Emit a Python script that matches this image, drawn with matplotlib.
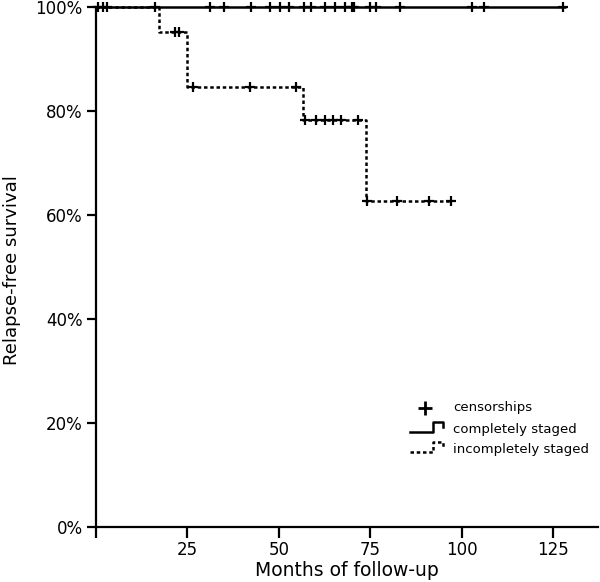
import matplotlib
matplotlib.use("Agg")
import matplotlib.pyplot as plt
import numpy as np

# ---- data ----
complete_censor_times = [0.6, 1.8, 2.9, 16.1, 31.3, 35.0, 42.3, 47.5, 50.3, 52.7,
                         56.9, 58.9, 62.6, 65.3, 68.0, 70.0, 70.6, 75.0, 76.7,
                         83.2, 102.8, 106.1, 127.7]
complete_end = 128.5

incomplete_step_times = [0, 17.2, 24.8, 56.7, 73.8]
incomplete_step_surv = [100.0, 95.2, 84.7, 78.2, 62.6]
incomplete_end = 97.0
incomplete_censor_times = [21.6, 22.8, 26.6, 42.1, 54.8, 57.1, 60.3, 62.6, 64.8,
                           67.1, 71.7, 74.0, 82.3, 91.1, 97.0]

x_ticks = [0, 25, 50, 75, 100, 125]
x_tick_labels = ["", "25", "50", "75", "100", "125"]
y_ticks = [0, 20, 40, 60, 80, 100]
y_tick_labels = ["0%", "20%", "40%", "60%", "80%", "100%"]
legend_labels = ["censorships", "completely staged", "incompletely staged"]


def surv_at(t, times, surv):
    idx = np.searchsorted(times, t, side="right") - 1
    return np.asarray(surv)[idx]


plt.rcParams['font.family'] = ['DejaVu Sans']
fig = plt.figure(figsize=(6.0, 5.82), dpi=100)
ax = fig.add_axes([96 / 600, 1 - 527 / 582, 502 / 600, 520 / 582])

dash = (0, (1.4, 1.1))
lw_solid = 1.8
lw_dash = 1.8

# completely staged
ax.plot([0, complete_end], [100, 100], color="black", lw=lw_solid,
        solid_capstyle="butt", clip_on=False, zorder=5)
ax.plot(complete_censor_times, [100] * len(complete_censor_times),
        linestyle="none", marker="+", ms=7, mew=1.6, color="black",
        clip_on=False, zorder=6)

# incompletely staged
xs = list(incomplete_step_times) + [incomplete_end]
ys = list(incomplete_step_surv) + [incomplete_step_surv[-1]]
ax.step(xs, ys, where="post", color="black", lw=lw_dash, linestyle=dash,
        clip_on=False, zorder=3)
ic_y = [surv_at(t, incomplete_step_times, incomplete_step_surv)
        for t in incomplete_censor_times]
ax.plot(incomplete_censor_times, ic_y, linestyle="none", marker="+", ms=7,
        mew=1.6, color="black", clip_on=False, zorder=4)

ax.set_xlim(0, 137.3)
ax.set_ylim(0, 100)
ax.set_xticks(x_ticks)
ax.set_xticklabels(x_tick_labels)
ax.set_yticks(y_ticks)
ax.set_yticklabels(y_tick_labels)
for s in ["top", "right"]:
    ax.spines[s].set_visible(False)
for s in ["left", "bottom"]:
    ax.spines[s].set_linewidth(1.6)
ax.tick_params(axis="x", length=8, width=1.6, labelsize=12, pad=2)
ax.tick_params(axis="y", length=6.5, width=1.6, labelsize=12, pad=3)
ax.set_xlabel("Months of follow-up", fontsize=13.5, va="center")
ax.xaxis.set_label_coords(0.5, (527 - 571) / 520)
ax.set_ylabel("Relapse-free survival", fontsize=13, va="center")
ax.yaxis.set_label_coords((12 - 96) / 502, (527 - 270) / 520)

# legend (drawn manually in figure pixel coordinates)
def fx(px):
    return px / 600


def fy(py):
    return 1 - py / 582


tr = fig.transFigure
fig.lines.append(plt.Line2D([fx(425)], [fy(408)], marker="+", ms=10, mew=2,
                            color="black", transform=tr))
fig.lines.append(plt.Line2D([fx(410), fx(433), fx(433), fx(443), fx(443)],
                            [fy(432), fy(432), fy(422), fy(422), fy(427)],
                            color="black", lw=lw_solid, transform=tr))
fig.lines.append(plt.Line2D([fx(410), fx(433), fx(433), fx(443), fx(443)],
                            [fy(452), fy(452), fy(442), fy(442), fy(447)],
                            color="black", lw=lw_dash, linestyle=dash,
                            transform=tr))
for i, lab in enumerate(legend_labels):
    fig.text(fx(453), fy(408 + 21 * i), lab, fontsize=9.5, va="center",
             ha="left")

fig.savefig("out.png", dpi=100)
